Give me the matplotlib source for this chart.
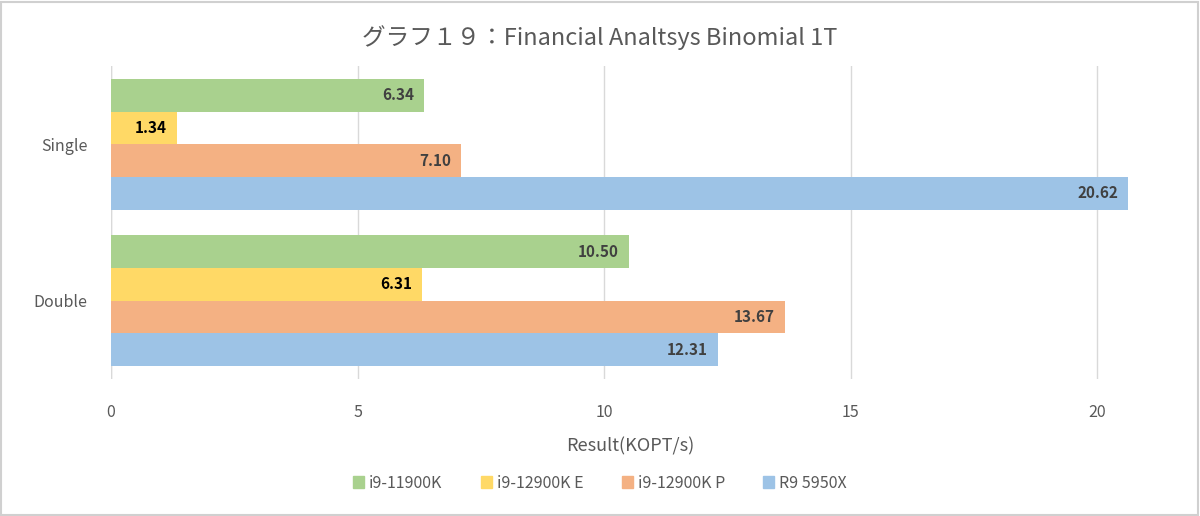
import matplotlib
matplotlib.use("Agg")
import matplotlib.pyplot as plt
import numpy as np
from matplotlib.patches import Rectangle

plt.rcParams['font.family'] = ['Noto Sans CJK JP', 'DejaVu Sans']

categories = ['Single', 'Double']
series = ['i9-11900K', 'i9-12900K E', 'i9-12900K P', 'R9 5950X']
values = {
    'i9-11900K': [6.34, 10.50],
    'i9-12900K E': [1.34, 6.31],
    'i9-12900K P': [7.10, 13.67],
    'R9 5950X': [20.62, 12.31],
}
colors = ['#A9D18E', '#FFD966', '#F4B183', '#9DC3E6']
label_colors = ['#404040', '#000000', '#404040', '#404040']

fig = plt.figure(figsize=(12, 5.16), dpi=100)
ax = fig.add_axes([111/1200, 1 - 379/516, (1150-111)/1200, (379-66)/516])

h = 0.209
y = np.arange(len(categories))
for i, s in enumerate(series):
    pos = y + (i - 1.5) * h
    bars = ax.barh(pos, values[s], height=h, color=colors[i], zorder=3)
    for b, v in zip(bars, values[s]):
        ax.text(v - 0.2, b.get_y() + b.get_height()/2, '%.2f' % v,
                ha='right', va='center', fontsize=11, fontweight='bold',
                color=label_colors[i], zorder=4)

ax.set_xlim(0, 21.07)
ax.set_ylim(1.5, -0.5)
ax.set_xticks([0, 5, 10, 15, 20])
ax.set_yticks(y)
ax.set_yticklabels(categories)
ax.grid(axis='x', color='#d9d9d9', linewidth=1, zorder=0)
for sp in ax.spines.values():
    sp.set_visible(False)
ax.axvline(0, color='#d9d9d9', linewidth=1, zorder=2)
ax.tick_params(length=0, labelsize=11.5, colors='#595959')
ax.tick_params(axis='y', pad=17)
ax.tick_params(axis='x', pad=18)
ax.set_xlabel('Result(KOPT/s)', fontsize=13, color='#595959', labelpad=12)

fig.suptitle('グラフ１９：Financial Analtsys Binomial 1T', y=1 - 38/516,
             fontsize=17, color='#595959', va='center')

handles = [Rectangle((0, 0), 1, 1, color=c) for c in colors]
fig.legend(handles, series, loc='center', bbox_to_anchor=(0.5, 1 - 483/516),
           ncol=4, frameon=False, fontsize=11.5, labelcolor='#595959',
           handlelength=0.7, handleheight=0.7, handletextpad=0.3, columnspacing=2.4)

fig.patches.append(Rectangle((0.001, 0.002), 0.997, 0.995, transform=fig.transFigure,
                             fill=False, edgecolor='#d0d0d0', linewidth=1.5))

fig.savefig('out.png', dpi=100)
